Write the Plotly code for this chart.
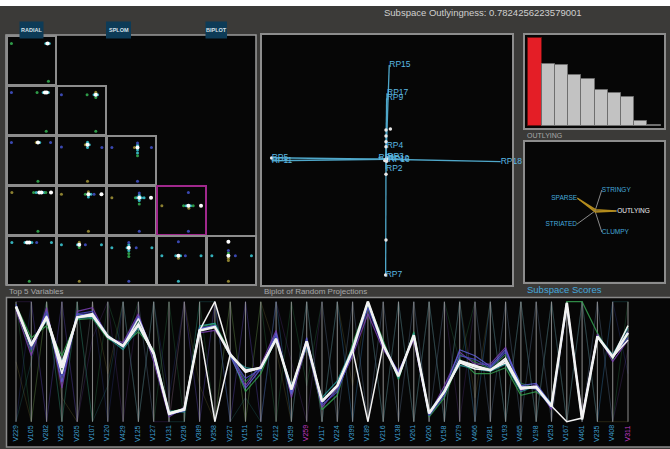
import math
import plotly.graph_objects as go

W, H = 670, 449
BG = '#3b3a38'
PANEL = '#060606'
FRAME = '#8c8c8c'
CYAN_TXT = '#45a8dc'
FONT = 'Liberation Sans, Arial, sans-serif'

# ---------------- data ----------------
subspace_outlyingness = 0.7824256223579001

# scagnostic score distribution (first bar = selected subspace)
bar_values = [0.782, 0.55, 0.54, 0.45, 0.42, 0.32, 0.29, 0.26, 0.047, 0.009]

# radial scagnostic glyph
scag_names = ['OUTLYING', 'STRINGY', 'SPARSE', 'STRIATED', 'CLUMPY']
scag_angles = [0, 72, 144, 216, 288]
scag_scores = [0.782, 0.05, 0.80, 0.05, 0.04]
scag_axis_len = 0.82

# biplot of random projections
rp_names = ['RP15', 'RP17', 'RP9', 'RP4', 'RP2', 'RP7', 'RP5', 'RP11', 'RP18',
            'RP1', 'RP3', 'RP10', 'RP16']
rp_x = [0.026, 0.008, 0.005, 0.005, 0.0, -0.003, -0.915, -0.915, 0.917,
        -0.06, 0.01, 0.015, 0.02]
rp_y = [0.754, 0.528, 0.488, 0.109, -0.08, -0.925, 0.012, -0.012, -0.019,
        0.015, 0.02, 0.005, -0.005]
obs_x = [0.0, 0.035, 0.0, 0.0, 0.0, 0.0, 0.0, -0.003, -0.915, 0.0, 0.01, -0.01, 0.005]
obs_y = [0.235, 0.243, 0.187, 0.141, 0.101, -0.12, -0.645, -0.925, 0.01, 0.0, 0.01, -0.01, -0.015]

# scatterplot matrix of the top variables, one list per row, (x, y, colour) per point
splom_row1 = [
    [(0.05, 0.88, 'g'), (0.84, 0.88, 'c'), (0.88, 0.88, 'w'), (0.92, 0.88, 'c'), (0.9, 0.01, 'g')],
]
splom_row2 = [
    [(0.05, 0.9, 'b'), (0.64, 0.9, 'g'), (0.78, 0.9, 'c'), (0.82, 0.9, 'w'), (0.86, 0.9, 'w'),
     (0.9, 0.9, 'c'), (0.85, 0.01, 'g')],
    [(0.05, 0.85, 'b'), (0.64, 0.85, 'g'), (0.80, 0.85, 'c'), (0.84, 0.85, 'w'), (0.88, 0.85, 'c'),
     (0.84, 0.91, 'y'), (0.84, 0.79, 'g'), (0.84, 0.01, 'g')],
]
splom_row3 = [
    [(0.05, 0.9, 'b'), (0.62, 0.9, 'y'), (0.66, 0.9, 'w'), (0.70, 0.9, 'c'), (0.95, 0.9, 'b'),
     (0.66, 0.01, 'g')],
    [(0.05, 0.8, 'b'), (0.6, 0.85, 'y'), (0.65, 0.85, 'w'), (0.65, 0.91, 'c'), (0.65, 0.79, 'c'),
     (0.69, 0.85, 'c'), (0.98, 0.79, 'b'), (0.65, 0.01, 'y')],
    [(0.06, 0.79, 'b'), (0.58, 0.79, 'y'), (0.65, 0.79, 'w'), (0.65, 0.84, 'c'), (0.65, 0.89, 'b'),
     (0.65, 0.73, 'c'), (0.65, 0.66, 'c'), (0.65, 0.6, 'g'), (0.97, 0.79, 'b'), (0.65, 0.01, 'b')],
]
splom_row4 = [
    [(0.06, 0.9, 'y'), (0.56, 0.9, 'g'), (0.62, 0.9, 'c'), (0.69, 0.9, 'w'), (0.74, 0.9, 'w'),
     (0.8, 0.9, 'c'), (0.84, 0.9, 'g'), (0.96, 0.9, 'w'), (0.66, 0.01, 'g')],
    [(0.05, 0.86, 'y'), (0.6, 0.86, 'g'), (0.67, 0.86, 'w'), (0.67, 0.92, 'y'), (0.67, 0.8, 'c'),
     (0.73, 0.86, 'c'), (0.8, 0.86, 'b'), (0.97, 0.86, 'w'), (0.67, 0.01, 'y')],
    [(0.06, 0.78, 'y'), (0.6, 0.78, 'g'), (0.64, 0.78, 'c'), (0.69, 0.78, 'w'), (0.69, 0.84, 'c'),
     (0.69, 0.89, 'b'), (0.69, 0.72, 'c'), (0.69, 0.64, 'g'), (0.74, 0.78, 'c'), (0.8, 0.78, 'c'),
     (0.96, 0.78, 'w'), (0.69, 0.01, 'b')],
    [(0.67, 0.9, 'b'), (0.06, 0.6, 'y'), (0.56, 0.6, 'g'), (0.62, 0.6, 'c'), (0.67, 0.6, 'w'),
     (0.72, 0.6, 'c'), (0.78, 0.6, 'g'), (0.96, 0.6, 'w'), (0.68, 0.54, 'y'), (0.67, 0.01, 'b')],
]
splom_row5 = [
    [(0.06, 0.9, 'c'), (0.36, 0.9, 'c'), (0.41, 0.9, 'w'), (0.46, 0.9, 'w'), (0.52, 0.9, 'c'),
     (0.63, 0.9, 'b'), (0.97, 0.9, 'c'), (0.46, 0.01, 'g')],
    [(0.05, 0.85, 'c'), (0.42, 0.85, 'c'), (0.46, 0.85, 'w'), (0.46, 0.91, 'y'), (0.46, 0.79, 'g'),
     (0.6, 0.85, 'b'), (0.97, 0.85, 'c'), (0.46, 0.01, 'y')],
    [(0.06, 0.78, 'c'), (0.41, 0.78, 'c'), (0.45, 0.78, 'w'), (0.45, 0.85, 'c'), (0.45, 0.9, 'b'),
     (0.45, 0.72, 'c'), (0.45, 0.65, 'g'), (0.45, 0.58, 'g'), (0.62, 0.78, 'b'), (0.98, 0.78, 'c'),
     (0.45, 0.01, 'b')],
    [(0.44, 0.92, 'b'), (0.06, 0.6, 'c'), (0.38, 0.6, 'c'), (0.44, 0.6, 'w'), (0.49, 0.6, 'c'),
     (0.6, 0.6, 'b'), (0.96, 0.6, 'c'), (0.44, 0.54, 'y'), (0.44, 0.01, 'c')],
    [(0.44, 0.92, 'w'), (0.06, 0.6, 'c'), (0.44, 0.6, 'w'), (0.44, 0.66, 'g'), (0.44, 0.72, 'b'),
     (0.44, 0.54, 'y'), (0.44, 0.49, 'y'), (0.6, 0.6, 'b'), (0.97, 0.6, 'c'), (0.44, 0.01, 'y')],
]
splom_selected = (4, 4)

# parallel coordinates
pc_vars = ['V229', 'V105', 'V282', 'V225', 'V205', 'V107', 'V120', 'V429', 'V125', 'V127',
           'V131', 'V236', 'V389', 'V358', 'V227', 'V151', 'V317', 'V212', 'V359', 'V259',
           'V117', 'V224', 'V399', 'V189', 'V216', 'V138', 'V261', 'V200', 'V158', 'V279',
           'V466', 'V281', 'V193', 'V465', 'V198', 'V253', 'V167', 'V461', 'V235', 'V408', 'V311']
pc_marked = ['V259', 'V311']

white_main = [0.96, 0.64, 0.87, 0.45, 0.87, 0.89, 0.71, 0.63, 0.81, 0.57, 0.07, 0.10, 0.76, 0.79,
              0.56, 0.42, 0.45, 0.69, 0.27, 0.67, 0.17, 0.30, 0.60, 1.00, 0.64, 0.38, 0.72, 0.07,
              0.25, 0.50, 0.46, 0.43, 0.51, 0.28, 0.29, 0.13, 0.99, 0.02, 0.71, 0.54, 0.74]
white_alt_a = [0.95, 0.63, 0.86, 0.40, 0.87, 0.90, 0.71, 0.63, 0.86, 0.57, 0.06, 0.10, 0.76, 1.00,
               0.56, 0.41, 0.45, 0.69, 0.27, 0.67, 0.17, 0.30, 0.60, 0.00, 0.64, 0.38, 0.72, 0.07,
               0.25, 0.51, 0.47, 0.43, 0.53, 0.29, 0.28, 0.13, 0.00, 0.03, 0.71, 0.54, 0.68]
white_alt_b = [0.96, 0.64, 0.88, 0.49, 0.87, 0.88, 0.71, 0.63, 0.80, 0.56, 0.07, 0.11, 0.77, 0.00,
               0.56, 0.43, 0.45, 0.69, 0.27, 0.67, 0.17, 0.30, 0.60, 1.00, 0.64, 0.38, 0.72, 0.07,
               0.25, 0.49, 0.44, 0.43, 0.49, 0.27, 0.29, 0.13, 0.99, 0.02, 0.71, 0.54, 0.80]

bundle_blue = [0.98, 0.60, 0.92, 0.38, 0.90, 0.92, 0.72, 0.62, 0.86, 0.55, 0.06, 0.09, 0.78, 0.80,
               0.55, 0.36, 0.44, 0.72, 0.24, 0.66, 0.14, 0.25, 0.58, 0.95, 0.62, 0.40, 0.70, 0.05,
               0.22, 0.55, 0.52, 0.45, 0.58, 0.30, 0.27, 0.12, 0.96, 0.03, 0.70, 0.55, 0.70]
bundle_purple = [0.93, 0.55, 0.95, 0.28, 0.92, 0.95, 0.70, 0.66, 0.90, 0.50, 0.04, 0.12, 0.74, 0.76,
                 0.58, 0.30, 0.47, 0.76, 0.20, 0.64, 0.12, 0.28, 0.55, 0.90, 0.60, 0.42, 0.68, 0.06,
                 0.30, 0.58, 0.48, 0.48, 0.62, 0.26, 0.31, 0.10, 0.98, 0.05, 0.73, 0.50, 0.68]
bundle_teal = [0.95, 0.66, 0.84, 0.50, 0.86, 0.87, 0.70, 0.60, 0.78, 0.58, 0.09, 0.08, 0.80, 0.82,
               0.54, 0.45, 0.43, 0.68, 0.30, 0.62, 0.20, 0.34, 0.62, 0.98, 0.66, 0.36, 0.74, 0.08,
               0.27, 0.47, 0.44, 0.42, 0.48, 0.25, 0.30, 0.15, 0.97, 0.02, 0.72, 0.56, 0.78]
bundle_green = [0.97, 0.70, 0.80, 0.55, 0.85, 0.86, 0.69, 0.64, 0.75, 0.60, 0.08, 0.11, 0.79, 0.82,
                0.57, 0.25, 0.40, 0.70, 0.28, 0.65, 0.10, 0.22, 0.65, 1.00, 0.68, 0.35, 0.75, 0.04,
                0.20, 0.52, 0.40, 0.40, 0.45, 0.22, 0.25, 0.15, 1.00, 1.00, 0.74, 0.52, 0.80]
bundle_forest = [0.94, 0.58, 0.90, 0.42, 0.88, 0.90, 0.73, 0.61, 0.84, 0.52, 0.05, 0.11, 0.77, 0.81,
                 0.57, 0.33, 0.46, 0.70, 0.22, 0.63, 0.19, 0.26, 0.57, 0.97, 0.63, 0.39, 0.73, 0.06,
                 0.24, 0.56, 0.50, 0.44, 0.56, 0.32, 0.28, 0.11, 0.97, 0.02, 0.70, 0.53, 0.72]
bundle_violet = [0.96, 0.65, 0.89, 0.33, 0.89, 0.90, 0.71, 0.64, 0.88, 0.56, 0.06, 0.10, 0.77, 0.80,
                 0.55, 0.28, 0.44, 0.74, 0.23, 0.70, 0.16, 0.29, 0.60, 0.99, 0.64, 0.41, 0.71, 0.07,
                 0.26, 0.60, 0.55, 0.46, 0.60, 0.30, 0.32, 0.14, 0.98, 0.03, 0.71, 0.54, 0.75]

stray_green = [1, 0, 1, 0, 1, 0, 1, 0.6, 1, 0, 1, 0, 1, 0, 1, 0, 1, 0, 1, 0.3, 1, 0, 1, 0, 1, 0,
               1, 0, 1, 0.5, 1, 0, 1, 0, 1, 0, 1, 0, 1, 0, 1]
stray_blue = [0, 1, 0, 1, 0, 1, 0, 1, 0, 1, 0.2, 1, 0, 1, 0, 1, 0, 1, 0, 1, 0, 1, 0, 1, 0, 1,
              0, 1, 0, 1, 0, 1, 0, 1, 0, 1, 0, 1, 0, 1, 0.4]
stray_olive = [0.5, 0, 1, 0.2, 0, 1, 0.4, 1, 0, 1, 0, 1, 0.3, 0, 1, 0, 1, 0.6, 0, 1, 0, 1, 0.3, 1,
               0, 1, 0, 1, 0, 1, 0.2, 1, 0, 1, 0, 1, 0, 1, 0, 0, 0]
stray_purple = [1, 1, 0, 1, 0, 0.7, 1, 0, 1, 0, 0, 1, 0, 1, 0, 1, 0, 1, 0.5, 0, 1, 0, 1, 0, 1, 0,
                1, 0, 1, 0, 1, 0, 1, 0, 1, 0, 1, 0, 1, 0, 0.6]
stray_teal = [0, 0.5, 1, 0, 1, 0, 0.3, 1, 0, 1, 0, 0, 1, 1, 0, 0.2, 0, 1, 0, 1, 0, 1, 0, 1, 0, 1,
              0, 1, 0, 1, 0, 1, 0, 1, 0, 1, 0, 1, 0, 1, 1]

POINT_COLOURS = {'w': '#f4f4f4', 'c': '#35b0ba', 'g': '#2e9a48', 'b': '#3a48b0',
                 'y': '#8c8030', 'p': '#7a3aa0'}

# ---------------- layout helpers ----------------
axes = {}
traces = []


def add_axes(px0, px1, py0, py1, xr, yr, frame=None, lw=1.5):
    k = len(axes) // 2 + 1
    s = '' if k == 1 else str(k)
    base = dict(showgrid=False, zeroline=False, showticklabels=False, ticks='', fixedrange=True)
    if frame:
        base.update(showline=True, mirror=True, linecolor=frame, linewidth=lw)
    else:
        base.update(showline=False)
    axes['xaxis' + s] = dict(base, domain=[px0 / W, px1 / W], range=xr, anchor='y' + s)
    axes['yaxis' + s] = dict(base, domain=[1 - py1 / H, 1 - py0 / H], range=yr, anchor='x' + s)
    return 'x' + s, 'y' + s


shapes = []
annotations = []


def panel(x0, y0, x1, y1, fill=PANEL, line=FRAME, lw=1.5):
    shapes.append(dict(type='rect', xref='paper', yref='paper', layer='below',
                       x0=x0 / W, x1=x1 / W, y0=1 - y1 / H, y1=1 - y0 / H,
                       fillcolor=fill, line=dict(color=line, width=lw)))


def label(text, x, y, size, color, xanchor='left', yanchor='middle', **kw):
    annotations.append(dict(text=text, x=x / W, y=1 - y / H, xref='paper', yref='paper',
                            xanchor=xanchor, yanchor=yanchor, showarrow=False,
                            font=dict(size=size, color=color, family=FONT), **kw))


# ---------------- background panels ----------------
shapes.append(dict(type='rect', xref='paper', yref='paper', layer='below', x0=0, x1=1,
                   y0=1 - 6 / H, y1=1, fillcolor='#ffffff', line=dict(width=0)))
panel(6, 35, 256, 285, line='#9a9a9a')
panel(6.5, 297.5, 675, 447, line='#8a8a8a')

# ---------------- scatterplot matrix ----------------
cell_cols = [7.5, 57.5, 107.5, 157.5, 207.5]
cell_rows = [36.5, 86.5, 136.5, 186.5, 236.5]
for r, row in enumerate([splom_row1, splom_row2, splom_row3, splom_row4, splom_row5], start=1):
    for c, pts in enumerate(row, start=1):
        x0, y0 = cell_cols[c - 1], cell_rows[r - 1]
        frame = '#a0288c' if (r, c) == splom_selected else FRAME
        xa, ya = add_axes(x0, x0 + 47, y0, y0 + 47, [-0.04, 1.04], [-0.04, 1.04], frame=frame)
        coloured = [p for p in pts if p[2] != 'w']
        whites = [p for p in pts if p[2] == 'w']
        traces.append(go.Scatter(x=[p[0] for p in coloured], y=[p[1] for p in coloured],
                                 mode='markers', xaxis=xa, yaxis=ya, hoverinfo='skip',
                                 marker=dict(size=3, color=[POINT_COLOURS[p[2]] for p in coloured],
                                             line=dict(width=0))))
        traces.append(go.Scatter(x=[p[0] for p in whites], y=[p[1] for p in whites],
                                 mode='markers', xaxis=xa, yaxis=ya, hoverinfo='skip',
                                 marker=dict(size=4, color='#ffffff', line=dict(width=0))))

# view buttons
for name, bx0, bx1 in [('RADIAL', 19.5, 43.5), ('SPLOM', 106, 131), ('BIPLOT', 205.5, 227)]:
    shapes.append(dict(type='rect', xref='paper', yref='paper', layer='above',
                       x0=bx0 / W, x1=bx1 / W, y0=1 - 38.5 / H, y1=1 - 21.5 / H,
                       fillcolor='#0d3b57', line=dict(width=0)))
    label('<b>' + name + '</b>', (bx0 + bx1) / 2, 30, 5.5, '#d6e2ea', xanchor='center')

# ---------------- biplot ----------------
xa, ya = add_axes(262, 512, 35, 285, [-0.992, 1.008], [-1.006, 0.994], frame=FRAME)
vx, vy = [], []
for ex, ey in zip(rp_x, rp_y):
    vx += [0, ex, None]
    vy += [0, ey, None]
traces.append(go.Scatter(x=vx, y=vy, mode='lines', xaxis=xa, yaxis=ya, hoverinfo='skip',
                         line=dict(color='#4fa7c9', width=1.3)))
traces.append(go.Scatter(x=obs_x, y=obs_y, mode='markers', xaxis=xa, yaxis=ya, hoverinfo='skip',
                         marker=dict(size=3.5, color='#e8e8e8', line=dict(width=0))))
traces.append(go.Scatter(x=rp_x, y=rp_y, mode='text', text=rp_names, textposition='middle right',
                         xaxis=xa, yaxis=ya, hoverinfo='skip', cliponaxis=False,
                         textfont=dict(size=8.5, color='#5bb8e2', family=FONT)))

# ---------------- score bars ----------------
xa, ya = add_axes(525, 664, 35, 128, [0.251, 10.749], [-0.0178, 0.809], frame=FRAME)
traces.append(go.Bar(x=list(range(1, len(bar_values) + 1)), y=bar_values, width=1,
                     xaxis=xa, yaxis=ya, hoverinfo='skip',
                     marker=dict(color=['#e41e26'] + ['#c2c2c2'] * (len(bar_values) - 1),
                                 line=dict(color=['#6a1010'] + ['#6e6e6e'] * (len(bar_values) - 1),
                                           width=1))))

# ---------------- radial scagnostics ----------------
xa, ya = add_axes(525, 664, 141.7, 281.7, [-2.593, 2.556], [-2.619, 2.567], frame=FRAME)
ax_x, ax_y, end_x, end_y = [], [], [], []
for ang in scag_angles:
    t = math.radians(ang)
    ex, ey = scag_axis_len * math.cos(t), scag_axis_len * math.sin(t)
    ax_x += [0, ex, None]
    ax_y += [0, ey, None]
    end_x.append(ex)
    end_y.append(ey)
traces.append(go.Scatter(x=ax_x, y=ax_y, mode='lines', xaxis=xa, yaxis=ya, hoverinfo='skip',
                         line=dict(color='#8a8a8a', width=1)))
poly_x = [s * math.cos(math.radians(a)) for s, a in zip(scag_scores, scag_angles)]
poly_y = [s * math.sin(math.radians(a)) for s, a in zip(scag_scores, scag_angles)]
traces.append(go.Scatter(x=poly_x + poly_x[:1], y=poly_y + poly_y[:1], mode='lines',
                         xaxis=xa, yaxis=ya, hoverinfo='skip',
                         line=dict(color='#b48c1c', width=1.4)))
traces.append(go.Scatter(x=end_x, y=end_y, mode='text', text=scag_names,
                         textposition=['middle right', 'middle right', 'middle left',
                                       'middle left', 'middle right'],
                         xaxis=xa, yaxis=ya, hoverinfo='skip',
                         textfont=dict(size=6.5, family=FONT,
                                       color=['#f0f0f0', CYAN_TXT, CYAN_TXT, CYAN_TXT, CYAN_TXT])))

# ---------------- parallel coordinates ----------------
PX0, STEP = 16, 15.3
xa, ya = add_axes(7, 670, 298.1, 425.3, [(7 - PX0) / STEP, (670 - PX0) / STEP], [-0.03, 1.03])
idx = list(range(len(pc_vars)))

for vals, col in [(stray_green, '#2f8a50'), (stray_blue, '#34409c'), (stray_olive, '#7a7236'),
                  (stray_purple, '#603890'), (stray_teal, '#287c80')]:
    traces.append(go.Scatter(x=idx, y=vals, mode='lines', xaxis=xa, yaxis=ya, hoverinfo='skip',
                             opacity=0.4, line=dict(color=col, width=0.7)))

gx, gy = [], []
for i in idx:
    gx += [i, i, None]
    gy += [0, 1, None]
traces.append(go.Scatter(x=gx, y=gy, mode='lines', xaxis=xa, yaxis=ya, hoverinfo='skip',
                         line=dict(color='#a0a0a0', width=1.1), opacity=0.8))

for vals, col in [(bundle_green, '#35a050'), (bundle_forest, '#2a7a48'), (bundle_teal, '#2a9a9a'),
                  (bundle_purple, '#7a3fb0'), (bundle_blue, '#4b4bc8'), (bundle_violet, '#6060d8')]:
    traces.append(go.Scatter(x=idx, y=vals, mode='lines', xaxis=xa, yaxis=ya, hoverinfo='skip',
                             opacity=0.85, line=dict(color=col, width=1.2)))

for vals, wdt in [(white_alt_a, 1.5), (white_alt_b, 1.5), (white_main, 2.6)]:
    traces.append(go.Scatter(x=idx, y=vals, mode='lines', xaxis=xa, yaxis=ya, hoverinfo='skip',
                             line=dict(color='#f2f2f2', width=wdt)))

for i, name in enumerate(pc_vars):
    annotations.append(dict(text=name, x=i, xref=xa, y=1 - 423.5 / H, yref='paper',
                            xanchor='center', yanchor='top', textangle=-90, showarrow=False,
                            xshift=-1,
                            font=dict(size=7, family=FONT,
                                      color='#c23ac4' if name in pc_marked else '#3f9fd0')))

# ---------------- captions ----------------
label('Subspace Outlyingness: ' + repr(subspace_outlyingness), 381.5, 12.5, 9.5, '#cfcfcf')
label('Top 5 Variables', 6.5, 291.5, 8, '#a8a8a8')
label('Biplot of Random Projections', 262, 291.5, 8, '#a8a8a8')
label('OUTLYING', 525, 136, 7, '#a8a8a8')
label('Subspace Scores', 524.5, 289, 9.5, CYAN_TXT)

fig = go.Figure(data=traces)
fig.update_layout(width=W, height=H, autosize=False, margin=dict(l=0, r=0, t=0, b=0, pad=0),
                  paper_bgcolor=BG, plot_bgcolor=PANEL, showlegend=False,
                  shapes=shapes, annotations=annotations, bargap=0,
                  font=dict(family=FONT), **axes)
fig.write_html('out.html')
